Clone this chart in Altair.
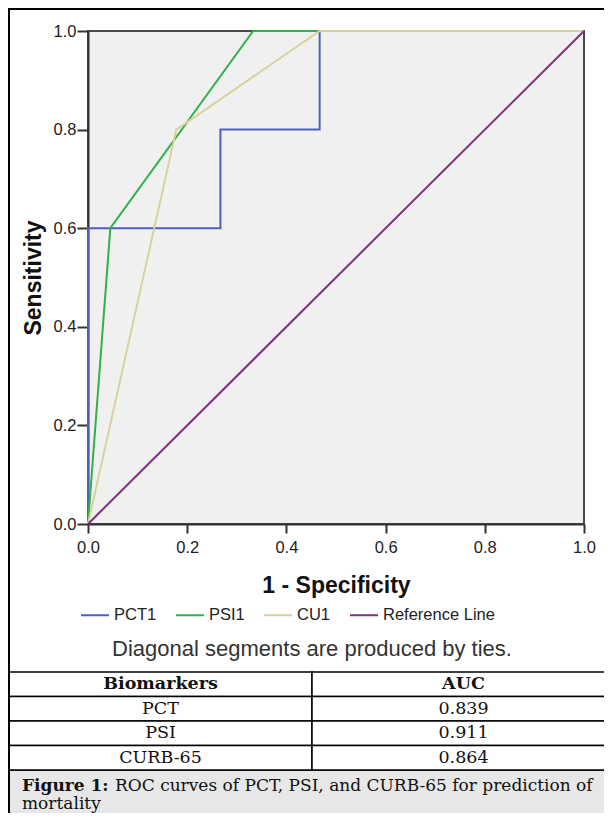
import altair as alt
import pandas as pd

# ---- ROC curve data (1 - specificity, sensitivity) ----
pct_fpr = [0.0, 0.0, 0.267, 0.267, 0.467, 0.467, 1.0]
pct_tpr = [0.0, 0.6, 0.6, 0.8, 0.8, 1.0, 1.0]
psi_fpr = [0.0, 0.045, 0.333, 1.0]
psi_tpr = [0.0, 0.6, 1.0, 1.0]
cu_fpr = [0.0, 0.178, 0.467, 1.0]
cu_tpr = [0.0, 0.8, 1.0, 1.0]
ref_fpr = [0.0, 1.0]
ref_tpr = [0.0, 1.0]

series_names = ["PCT1", "PSI1", "CU1", "Reference Line"]
series_colors = ["#4c60b6", "#2eb34b", "#d8d19e", "#7e2f81"]

axis_ticks = [0.0, 0.2, 0.4, 0.6, 0.8, 1.0]

# ---- table data ----
table_header = ["Biomarkers", "AUC"]
table_markers = ["PCT", "PSI", "CURB-65"]
table_auc = ["0.839", "0.911", "0.864"]

note_text = "Diagonal segments are produced by ties."
caption_bold = "Figure 1:"
caption_rest = "ROC curves of PCT, PSI, and CURB-65 for prediction of"
caption_line2 = "mortality"

# ---- build frames ----
rows = []
for name, xs, ys in zip(series_names,
                        [pct_fpr, psi_fpr, cu_fpr, ref_fpr],
                        [pct_tpr, psi_tpr, cu_tpr, ref_tpr]):
    for i, (a, b) in enumerate(zip(xs, ys)):
        rows.append({"series": name, "fpr": a, "tpr": b, "ord": i})
roc_df = pd.DataFrame(rows)

tbl_rows = []
for c, h in enumerate(table_header):
    tbl_rows.append({"row": 0, "col": c, "label": h})
for r, (m, a) in enumerate(zip(table_markers, table_auc), start=1):
    tbl_rows.append({"row": r, "col": 0, "label": m})
    tbl_rows.append({"row": r, "col": 1, "label": a})
tbl_df = pd.DataFrame(tbl_rows)

W, H = 496, 493
SANS = "Liberation Sans"
SERIF = "DejaVu Serif"

roc = alt.Chart(roc_df).mark_line(strokeWidth=2).encode(
    x=alt.X("fpr:Q", scale=alt.Scale(domain=[0, 1], nice=False, zero=False),
            axis=alt.Axis(values=axis_ticks, format=".1f", title="1 - Specificity",
                          grid=False, labelFlush=False, tickSize=9, tickWidth=2,
                          tickColor="#333", domainColor="#333", domainWidth=2,
                          labelFont=SANS, labelFontSize=16.5, labelColor="#222",
                          labelPadding=6, titleFont=SANS, titleFontSize=23,
                          titleFontWeight="bold", titleColor="#111",
                          titleY=61, titleBaseline="middle")),
    y=alt.Y("tpr:Q", scale=alt.Scale(domain=[0, 1], nice=False, zero=False),
            axis=alt.Axis(values=axis_ticks, format=".1f", title="Sensitivity",
                          grid=False, labelFlush=False, tickSize=11, tickWidth=2,
                          tickColor="#333", domainColor="#333", domainWidth=2,
                          labelFont=SANS, labelFontSize=16.5, labelColor="#222",
                          labelPadding=1, titleFont=SANS, titleFontSize=23,
                          titleFontWeight="bold", titleColor="#111",
                          titleX=-55, titleY=246.5, titleAngle=270,
                          titleAlign="center", titleBaseline="middle")),
    color=alt.Color("series:N",
                    scale=alt.Scale(domain=series_names, range=series_colors),
                    legend=alt.Legend(title=None, orient="none", legendX=-8, legendY=569,
                                      direction="horizontal", symbolType="stroke",
                                      symbolSize=784, symbolStrokeWidth=2,
                                      labelFont=SANS, labelFontSize=16.5,
                                      labelColor="#222", labelOffset=4,
                                      columnPadding=15)),
    order="ord:Q",
)

xs = alt.X("col:O", scale=alt.Scale(range=[-79, 527], paddingInner=0, paddingOuter=0), axis=None)
ys = alt.Y("row:O", scale=alt.Scale(range=[641, 739], paddingInner=0, paddingOuter=0), axis=None)

cells = alt.Chart(tbl_df).mark_rect(fill="white", stroke="black", strokeWidth=1.5).encode(x=xs, y=ys)
head_txt = alt.Chart(tbl_df).transform_filter("datum.row == 0").mark_text(
    font=SERIF, fontSize=17.5, fontWeight="bold", color="#111").encode(x=xs, y=ys, text="label:N")
body_txt = alt.Chart(tbl_df).transform_filter("datum.row > 0").mark_text(
    font=SERIF, fontSize=17.5, color="#111").encode(x=xs, y=ys, text="label:N")
table = alt.layer(cells, head_txt, body_txt)

one = pd.DataFrame({"k": [0]})
caption_box = alt.Chart(one).mark_rect(fill="#e7e7e7", stroke="black", strokeWidth=1.5).encode(
    x=alt.value(-79), x2=alt.value(527), y=alt.value(739), y2=alt.value(800))
top_border = alt.Chart(one).mark_rule(color="black", strokeWidth=2).encode(
    x=alt.value(-80), x2=alt.value(530), y=alt.value(-22))
left_border = alt.Chart(one).mark_rule(color="black", strokeWidth=2).encode(
    x=alt.value(-79), y=alt.value(-23), y2=alt.value(800))

note = alt.Chart(pd.DataFrame({"t": [note_text]})).mark_text(
    font=SANS, fontSize=22, color="#333", align="center", baseline="middle").encode(
    x=alt.value(224), y=alt.value(618), text="t:N")
cap1 = alt.Chart(pd.DataFrame({"t": [caption_bold]})).mark_text(
    font=SERIF, fontSize=17, fontWeight="bold", color="#111", align="left", baseline="middle").encode(
    x=alt.value(-66), y=alt.value(755), text="t:N")
cap2 = alt.Chart(pd.DataFrame({"t": [caption_rest]})).mark_text(
    font=SERIF, fontSize=17, color="#111", align="left", baseline="middle").encode(
    x=alt.value(27), y=alt.value(755), text="t:N")
cap3 = alt.Chart(pd.DataFrame({"t": [caption_line2]})).mark_text(
    font=SERIF, fontSize=17, color="#111", align="left", baseline="middle").encode(
    x=alt.value(-66), y=alt.value(773), text="t:N")

chart = alt.layer(
    roc, caption_box, table, note, cap1, cap2, cap3, top_border, left_border
).resolve_scale(x="independent", y="independent").properties(
    width=W, height=H,
    padding={"left": 80, "top": 23, "right": 20, "bottom": 289},
    autosize=alt.AutoSizeParams(type="none"),
).configure_view(fill="#f0f0f0", stroke="#4a4a4a", strokeWidth=2)

chart.save("out.html", embed_options={"renderer": "svg", "actions": False})
